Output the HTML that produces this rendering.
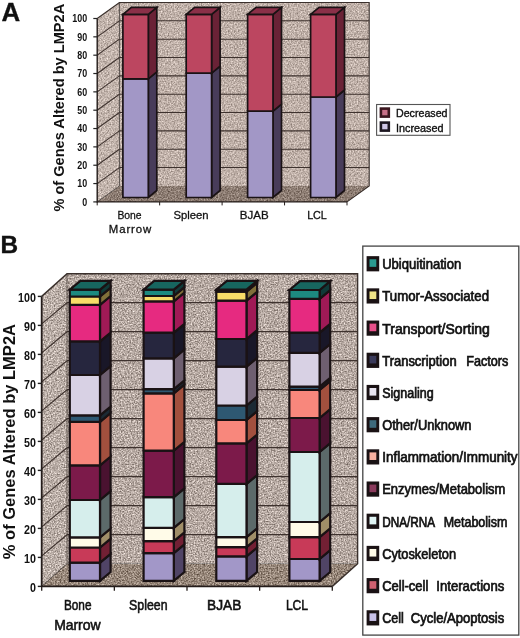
<!DOCTYPE html>
<html><head><meta charset="utf-8"><style>
html,body{margin:0;padding:0;background:#fff;}
svg{display:block;font-family:"Liberation Sans", sans-serif;filter:blur(0.35px);}
</style></head><body>
<svg width="520" height="638" viewBox="0 0 520 638">
<defs>
<filter id="grainA" x="0" y="0" width="1" height="1" color-interpolation-filters="sRGB">
<feTurbulence type="fractalNoise" baseFrequency="0.7" numOctaves="2" seed="9" result="t"/>
<feColorMatrix in="t" type="matrix" values="1 0 0 0 0  1 0 0 0 0  1 0 0 0 0  0 0 0 0 1" result="g"/>
<feComposite in="SourceGraphic" in2="g" operator="arithmetic" k1="0" k2="1" k3="0.6" k4="-0.3" result="r"/>
<feComposite in="r" in2="SourceGraphic" operator="in"/>
</filter>
<filter id="grain" x="0" y="0" width="1" height="1" color-interpolation-filters="sRGB">
<feTurbulence type="fractalNoise" baseFrequency="0.7" numOctaves="2" seed="5" result="t"/>
<feColorMatrix in="t" type="matrix" values="1 0 0 0 0  1 0 0 0 0  1 0 0 0 0  0 0 0 0 1" result="g"/>
<feComposite in="SourceGraphic" in2="g" operator="arithmetic" k1="0" k2="1" k3="0.8" k4="-0.4" result="r"/>
<feComposite in="r" in2="SourceGraphic" operator="in"/>
</filter>
</defs>
<rect width="520" height="638" fill="#fff"/>
<polygon points="119.40,2.50 369.20,2.50 369.20,185.90 119.40,185.90" fill="#bfb0a8" filter="url(#grainA)"/>
<polygon points="97.20,18.50 119.40,2.50 119.40,185.90 97.20,201.90" fill="#c2b4ac" filter="url(#grainA)"/>
<polygon points="97.20,201.90 119.40,185.90 369.20,185.90 347.00,201.90" fill="#8c7c72" filter="url(#grainA)"/>
<line x1="119.40" y1="167.56" x2="369.20" y2="167.56" stroke="#3e322e" stroke-width="1.05"/>
<line x1="97.20" y1="183.56" x2="119.40" y2="167.56" stroke="#3e322e" stroke-width="1.05"/>
<line x1="119.40" y1="149.22" x2="369.20" y2="149.22" stroke="#3e322e" stroke-width="1.05"/>
<line x1="97.20" y1="165.22" x2="119.40" y2="149.22" stroke="#3e322e" stroke-width="1.05"/>
<line x1="119.40" y1="130.88" x2="369.20" y2="130.88" stroke="#3e322e" stroke-width="1.05"/>
<line x1="97.20" y1="146.88" x2="119.40" y2="130.88" stroke="#3e322e" stroke-width="1.05"/>
<line x1="119.40" y1="112.54" x2="369.20" y2="112.54" stroke="#3e322e" stroke-width="1.05"/>
<line x1="97.20" y1="128.54" x2="119.40" y2="112.54" stroke="#3e322e" stroke-width="1.05"/>
<line x1="119.40" y1="94.20" x2="369.20" y2="94.20" stroke="#3e322e" stroke-width="1.05"/>
<line x1="97.20" y1="110.20" x2="119.40" y2="94.20" stroke="#3e322e" stroke-width="1.05"/>
<line x1="119.40" y1="75.86" x2="369.20" y2="75.86" stroke="#3e322e" stroke-width="1.05"/>
<line x1="97.20" y1="91.86" x2="119.40" y2="75.86" stroke="#3e322e" stroke-width="1.05"/>
<line x1="119.40" y1="57.52" x2="369.20" y2="57.52" stroke="#3e322e" stroke-width="1.05"/>
<line x1="97.20" y1="73.52" x2="119.40" y2="57.52" stroke="#3e322e" stroke-width="1.05"/>
<line x1="119.40" y1="39.18" x2="369.20" y2="39.18" stroke="#3e322e" stroke-width="1.05"/>
<line x1="97.20" y1="55.18" x2="119.40" y2="39.18" stroke="#3e322e" stroke-width="1.05"/>
<line x1="119.40" y1="20.84" x2="369.20" y2="20.84" stroke="#3e322e" stroke-width="1.05"/>
<line x1="97.20" y1="36.84" x2="119.40" y2="20.84" stroke="#3e322e" stroke-width="1.05"/>
<polyline points="97.20,18.50 119.40,2.50 369.20,2.50 369.20,185.90 347.00,201.90" fill="none" stroke="#3a302c" stroke-width="1.12"/>
<line x1="97.20" y1="202.40" x2="97.20" y2="18.50" stroke="#241c1a" stroke-width="1.4"/>
<line x1="119.40" y1="2.50" x2="119.40" y2="185.90" stroke="#3a302c" stroke-width="0.7"/>
<line x1="97.20" y1="201.90" x2="119.40" y2="185.90" stroke="#3a302c" stroke-width="0.6"/>
<line x1="97.20" y1="201.90" x2="347.00" y2="201.90" stroke="#241c1a" stroke-width="1.26"/>
<polygon points="148.30,78.80 156.80,71.80 156.80,190.50 148.30,197.50" fill="#483c5a" stroke="#1a1214" stroke-width="1.7" stroke-linejoin="miter"/>
<polygon points="122.90,78.80 148.30,78.80 148.30,197.50 122.90,197.50" fill="#a297c6" stroke="#1a1214" stroke-width="1.7" stroke-linejoin="miter"/>
<polygon points="148.30,14.40 156.80,7.40 156.80,71.80 148.30,78.80" fill="#6a2236" stroke="#1a1214" stroke-width="1.7" stroke-linejoin="miter"/>
<polygon points="122.90,14.40 148.30,14.40 148.30,78.80 122.90,78.80" fill="#bc4660" stroke="#1a1214" stroke-width="1.7" stroke-linejoin="miter"/>
<polygon points="122.90,14.40 131.40,7.40 156.80,7.40 148.30,14.40" fill="#8a3048" stroke="#1a1214" stroke-width="1.7" stroke-linejoin="miter"/>
<polygon points="211.60,73.10 220.10,66.10 220.10,190.50 211.60,197.50" fill="#483c5a" stroke="#1a1214" stroke-width="1.7" stroke-linejoin="miter"/>
<polygon points="186.20,73.10 211.60,73.10 211.60,197.50 186.20,197.50" fill="#a297c6" stroke="#1a1214" stroke-width="1.7" stroke-linejoin="miter"/>
<polygon points="211.60,14.40 220.10,7.40 220.10,66.10 211.60,73.10" fill="#6a2236" stroke="#1a1214" stroke-width="1.7" stroke-linejoin="miter"/>
<polygon points="186.20,14.40 211.60,14.40 211.60,73.10 186.20,73.10" fill="#bc4660" stroke="#1a1214" stroke-width="1.7" stroke-linejoin="miter"/>
<polygon points="186.20,14.40 194.70,7.40 220.10,7.40 211.60,14.40" fill="#8a3048" stroke="#1a1214" stroke-width="1.7" stroke-linejoin="miter"/>
<polygon points="273.00,111.20 281.50,104.20 281.50,190.50 273.00,197.50" fill="#483c5a" stroke="#1a1214" stroke-width="1.7" stroke-linejoin="miter"/>
<polygon points="247.60,111.20 273.00,111.20 273.00,197.50 247.60,197.50" fill="#a297c6" stroke="#1a1214" stroke-width="1.7" stroke-linejoin="miter"/>
<polygon points="273.00,14.40 281.50,7.40 281.50,104.20 273.00,111.20" fill="#6a2236" stroke="#1a1214" stroke-width="1.7" stroke-linejoin="miter"/>
<polygon points="247.60,14.40 273.00,14.40 273.00,111.20 247.60,111.20" fill="#bc4660" stroke="#1a1214" stroke-width="1.7" stroke-linejoin="miter"/>
<polygon points="247.60,14.40 256.10,7.40 281.50,7.40 273.00,14.40" fill="#8a3048" stroke="#1a1214" stroke-width="1.7" stroke-linejoin="miter"/>
<polygon points="336.00,97.00 344.50,90.00 344.50,190.50 336.00,197.50" fill="#483c5a" stroke="#1a1214" stroke-width="1.7" stroke-linejoin="miter"/>
<polygon points="310.60,97.00 336.00,97.00 336.00,197.50 310.60,197.50" fill="#a297c6" stroke="#1a1214" stroke-width="1.7" stroke-linejoin="miter"/>
<polygon points="336.00,14.40 344.50,7.40 344.50,90.00 336.00,97.00" fill="#6a2236" stroke="#1a1214" stroke-width="1.7" stroke-linejoin="miter"/>
<polygon points="310.60,14.40 336.00,14.40 336.00,97.00 310.60,97.00" fill="#bc4660" stroke="#1a1214" stroke-width="1.7" stroke-linejoin="miter"/>
<polygon points="310.60,14.40 319.10,7.40 344.50,7.40 336.00,14.40" fill="#8a3048" stroke="#1a1214" stroke-width="1.7" stroke-linejoin="miter"/>
<line x1="93.30" y1="201.90" x2="97.20" y2="201.90" stroke="#222" stroke-width="1.2"/>
<text x="87.20" y="205.70" font-size="10.2" font-weight="bold" text-anchor="end" fill="#111" textLength="4.95" lengthAdjust="spacingAndGlyphs">0</text>
<line x1="93.30" y1="183.56" x2="97.20" y2="183.56" stroke="#222" stroke-width="1.2"/>
<text x="87.20" y="187.36" font-size="10.2" font-weight="bold" text-anchor="end" fill="#111" textLength="9.90" lengthAdjust="spacingAndGlyphs">10</text>
<line x1="93.30" y1="165.22" x2="97.20" y2="165.22" stroke="#222" stroke-width="1.2"/>
<text x="87.20" y="169.02" font-size="10.2" font-weight="bold" text-anchor="end" fill="#111" textLength="9.90" lengthAdjust="spacingAndGlyphs">20</text>
<line x1="93.30" y1="146.88" x2="97.20" y2="146.88" stroke="#222" stroke-width="1.2"/>
<text x="87.20" y="150.68" font-size="10.2" font-weight="bold" text-anchor="end" fill="#111" textLength="9.90" lengthAdjust="spacingAndGlyphs">30</text>
<line x1="93.30" y1="128.54" x2="97.20" y2="128.54" stroke="#222" stroke-width="1.2"/>
<text x="87.20" y="132.34" font-size="10.2" font-weight="bold" text-anchor="end" fill="#111" textLength="9.90" lengthAdjust="spacingAndGlyphs">40</text>
<line x1="93.30" y1="110.20" x2="97.20" y2="110.20" stroke="#222" stroke-width="1.2"/>
<text x="87.20" y="114.00" font-size="10.2" font-weight="bold" text-anchor="end" fill="#111" textLength="9.90" lengthAdjust="spacingAndGlyphs">50</text>
<line x1="93.30" y1="91.86" x2="97.20" y2="91.86" stroke="#222" stroke-width="1.2"/>
<text x="87.20" y="95.66" font-size="10.2" font-weight="bold" text-anchor="end" fill="#111" textLength="9.90" lengthAdjust="spacingAndGlyphs">60</text>
<line x1="93.30" y1="73.52" x2="97.20" y2="73.52" stroke="#222" stroke-width="1.2"/>
<text x="87.20" y="77.32" font-size="10.2" font-weight="bold" text-anchor="end" fill="#111" textLength="9.90" lengthAdjust="spacingAndGlyphs">70</text>
<line x1="93.30" y1="55.18" x2="97.20" y2="55.18" stroke="#222" stroke-width="1.2"/>
<text x="87.20" y="58.98" font-size="10.2" font-weight="bold" text-anchor="end" fill="#111" textLength="9.90" lengthAdjust="spacingAndGlyphs">80</text>
<line x1="93.30" y1="36.84" x2="97.20" y2="36.84" stroke="#222" stroke-width="1.2"/>
<text x="87.20" y="40.64" font-size="10.2" font-weight="bold" text-anchor="end" fill="#111" textLength="9.90" lengthAdjust="spacingAndGlyphs">90</text>
<line x1="93.30" y1="18.50" x2="97.20" y2="18.50" stroke="#222" stroke-width="1.2"/>
<text x="87.20" y="22.30" font-size="10.2" font-weight="bold" text-anchor="end" fill="#111" textLength="14.85" lengthAdjust="spacingAndGlyphs">100</text>
<line x1="97.20" y1="201.90" x2="97.20" y2="205.40" stroke="#241c1a" stroke-width="1.0"/>
<line x1="159.65" y1="201.90" x2="159.65" y2="205.40" stroke="#241c1a" stroke-width="1.0"/>
<line x1="222.10" y1="201.90" x2="222.10" y2="205.40" stroke="#241c1a" stroke-width="1.0"/>
<line x1="284.55" y1="201.90" x2="284.55" y2="205.40" stroke="#241c1a" stroke-width="1.0"/>
<line x1="347.00" y1="201.90" x2="347.00" y2="205.40" stroke="#241c1a" stroke-width="1.0"/>
<text x="129.50" y="218.80" font-size="11.4" font-weight="normal" text-anchor="middle" fill="#111" textLength="24.20" lengthAdjust="spacingAndGlyphs" stroke="#111" stroke-width="0.3">Bone</text>
<text x="130" y="233.1" font-size="11.4" text-anchor="middle" fill="#111" textLength="42.4" lengthAdjust="spacing" stroke="#111" stroke-width="0.3">Marrow</text>
<text x="191.00" y="218.80" font-size="11.4" font-weight="normal" text-anchor="middle" fill="#111" textLength="35.20" lengthAdjust="spacingAndGlyphs" stroke="#111" stroke-width="0.3">Spleen</text>
<text x="254.20" y="218.80" font-size="11.4" font-weight="normal" text-anchor="middle" fill="#111" textLength="28.90" lengthAdjust="spacingAndGlyphs" stroke="#111" stroke-width="0.3">BJAB</text>
<text x="317.00" y="218.80" font-size="11.4" font-weight="normal" text-anchor="middle" fill="#111" textLength="19.70" lengthAdjust="spacingAndGlyphs" stroke="#111" stroke-width="0.3">LCL</text>
<text transform="translate(63.8,211.6) rotate(-90)" font-size="14.6" font-weight="bold" fill="#111" textLength="207.8" lengthAdjust="spacingAndGlyphs">% of Genes Altered by LMP2A</text>
<text x="1.60" y="20.70" font-size="25" font-weight="bold" text-anchor="start" fill="#111" textLength="18.70" lengthAdjust="spacingAndGlyphs" stroke="#111" stroke-width="0.3">A</text>
<rect x="376.6" y="104.5" width="73.4" height="30.8" fill="#fff" stroke="#555" stroke-width="1.1"/>
<rect x="379.6" y="107.30" width="10.5" height="10.6" fill="#3a161e"/>
<rect x="382.2" y="109.90" width="5.3" height="5.4" fill="#c87088"/>
<text x="396.00" y="116.60" font-size="10.8" font-weight="normal" text-anchor="start" fill="#111" textLength="51.50" lengthAdjust="spacingAndGlyphs" stroke="#111" stroke-width="0.35">Decreased</text>
<rect x="379.6" y="121.30" width="10.5" height="10.6" fill="#1c1620"/>
<rect x="382.2" y="123.90" width="5.3" height="5.4" fill="#cfc6e6"/>
<text x="396.00" y="131.90" font-size="10.8" font-weight="normal" text-anchor="start" fill="#111" textLength="47.50" lengthAdjust="spacingAndGlyphs" stroke="#111" stroke-width="0.35">Increased</text>
<polygon points="67.00,273.70 357.60,273.70 357.60,563.70 67.00,563.70" fill="#b6a9a2" filter="url(#grain)"/>
<polygon points="41.70,296.40 67.00,273.70 67.00,563.70 41.70,586.40" fill="#baaea7" filter="url(#grain)"/>
<polygon points="41.70,586.40 67.00,563.70 357.60,563.70 332.30,586.40" fill="#968679" filter="url(#grain)"/>
<line x1="67.00" y1="534.70" x2="357.60" y2="534.70" stroke="#3e322e" stroke-width="1.2"/>
<line x1="41.70" y1="555.90" x2="67.00" y2="534.70" stroke="#3e322e" stroke-width="1.2"/>
<line x1="67.00" y1="505.70" x2="357.60" y2="505.70" stroke="#3e322e" stroke-width="1.2"/>
<line x1="41.70" y1="526.90" x2="67.00" y2="505.70" stroke="#3e322e" stroke-width="1.2"/>
<line x1="67.00" y1="476.70" x2="357.60" y2="476.70" stroke="#3e322e" stroke-width="1.2"/>
<line x1="41.70" y1="497.90" x2="67.00" y2="476.70" stroke="#3e322e" stroke-width="1.2"/>
<line x1="67.00" y1="447.70" x2="357.60" y2="447.70" stroke="#3e322e" stroke-width="1.2"/>
<line x1="41.70" y1="468.90" x2="67.00" y2="447.70" stroke="#3e322e" stroke-width="1.2"/>
<line x1="67.00" y1="418.70" x2="357.60" y2="418.70" stroke="#3e322e" stroke-width="1.2"/>
<line x1="41.70" y1="439.90" x2="67.00" y2="418.70" stroke="#3e322e" stroke-width="1.2"/>
<line x1="67.00" y1="389.70" x2="357.60" y2="389.70" stroke="#3e322e" stroke-width="1.2"/>
<line x1="41.70" y1="410.90" x2="67.00" y2="389.70" stroke="#3e322e" stroke-width="1.2"/>
<line x1="67.00" y1="360.70" x2="357.60" y2="360.70" stroke="#3e322e" stroke-width="1.2"/>
<line x1="41.70" y1="381.90" x2="67.00" y2="360.70" stroke="#3e322e" stroke-width="1.2"/>
<line x1="67.00" y1="331.70" x2="357.60" y2="331.70" stroke="#3e322e" stroke-width="1.2"/>
<line x1="41.70" y1="352.90" x2="67.00" y2="331.70" stroke="#3e322e" stroke-width="1.2"/>
<line x1="67.00" y1="302.70" x2="357.60" y2="302.70" stroke="#3e322e" stroke-width="1.2"/>
<line x1="41.70" y1="323.90" x2="67.00" y2="302.70" stroke="#3e322e" stroke-width="1.2"/>
<polyline points="41.70,296.40 67.00,273.70 357.60,273.70 357.60,563.70 332.30,586.40" fill="none" stroke="#3a302c" stroke-width="1.44"/>
<line x1="41.70" y1="586.90" x2="41.70" y2="296.40" stroke="#241c1a" stroke-width="1.8"/>
<line x1="67.00" y1="273.70" x2="67.00" y2="563.70" stroke="#3a302c" stroke-width="0.7"/>
<line x1="41.70" y1="586.40" x2="67.00" y2="563.70" stroke="#3a302c" stroke-width="0.6"/>
<line x1="41.70" y1="586.40" x2="332.30" y2="586.40" stroke="#241c1a" stroke-width="1.62"/>
<polygon points="100.00,562.70 110.60,553.90 110.60,572.00 100.00,580.80" fill="#504466" stroke="#1a1214" stroke-width="2.2" stroke-linejoin="miter"/>
<polygon points="69.80,562.70 100.00,562.70 100.00,580.80 69.80,580.80" fill="#a297c8" stroke="#1a1214" stroke-width="2.2" stroke-linejoin="miter"/>
<polygon points="100.00,547.50 110.60,538.70 110.60,553.90 100.00,562.70" fill="#722034" stroke="#1a1214" stroke-width="2.2" stroke-linejoin="miter"/>
<polygon points="69.80,547.50 100.00,547.50 100.00,562.70 69.80,562.70" fill="#c83a58" stroke="#1a1214" stroke-width="2.2" stroke-linejoin="miter"/>
<polygon points="100.00,537.30 110.60,528.50 110.60,538.70 100.00,547.50" fill="#a08e68" stroke="#1a1214" stroke-width="2.2" stroke-linejoin="miter"/>
<polygon points="69.80,537.30 100.00,537.30 100.00,547.50 69.80,547.50" fill="#fffbe8" stroke="#1a1214" stroke-width="2.2" stroke-linejoin="miter"/>
<polygon points="100.00,500.00 110.60,491.20 110.60,528.50 100.00,537.30" fill="#5c6a6a" stroke="#1a1214" stroke-width="2.2" stroke-linejoin="miter"/>
<polygon points="69.80,500.00 100.00,500.00 100.00,537.30 69.80,537.30" fill="#d6eeec" stroke="#1a1214" stroke-width="2.2" stroke-linejoin="miter"/>
<polygon points="100.00,465.30 110.60,456.50 110.60,491.20 100.00,500.00" fill="#4a1230" stroke="#1a1214" stroke-width="2.2" stroke-linejoin="miter"/>
<polygon points="69.80,465.30 100.00,465.30 100.00,500.00 69.80,500.00" fill="#7c1a4a" stroke="#1a1214" stroke-width="2.2" stroke-linejoin="miter"/>
<polygon points="100.00,421.80 110.60,413.00 110.60,456.50 100.00,465.30" fill="#a2503e" stroke="#1a1214" stroke-width="2.2" stroke-linejoin="miter"/>
<polygon points="69.80,421.80 100.00,421.80 100.00,465.30 69.80,465.30" fill="#f8877c" stroke="#1a1214" stroke-width="2.2" stroke-linejoin="miter"/>
<polygon points="100.00,415.40 110.60,406.60 110.60,413.00 100.00,421.80" fill="#1c2a34" stroke="#1a1214" stroke-width="2.2" stroke-linejoin="miter"/>
<polygon points="69.80,415.40 100.00,415.40 100.00,421.80 69.80,421.80" fill="#2e5872" stroke="#1a1214" stroke-width="2.2" stroke-linejoin="miter"/>
<polygon points="100.00,375.00 110.60,366.20 110.60,406.60 100.00,415.40" fill="#6e5f70" stroke="#1a1214" stroke-width="2.2" stroke-linejoin="miter"/>
<polygon points="69.80,375.00 100.00,375.00 100.00,415.40 69.80,415.40" fill="#d8d1e4" stroke="#1a1214" stroke-width="2.2" stroke-linejoin="miter"/>
<polygon points="100.00,341.40 110.60,332.60 110.60,366.20 100.00,375.00" fill="#191728" stroke="#1a1214" stroke-width="2.2" stroke-linejoin="miter"/>
<polygon points="69.80,341.40 100.00,341.40 100.00,375.00 69.80,375.00" fill="#26263e" stroke="#1a1214" stroke-width="2.2" stroke-linejoin="miter"/>
<polygon points="100.00,304.80 110.60,296.00 110.60,332.60 100.00,341.40" fill="#a01a56" stroke="#1a1214" stroke-width="2.2" stroke-linejoin="miter"/>
<polygon points="69.80,304.80 100.00,304.80 100.00,341.40 69.80,341.40" fill="#e62a80" stroke="#1a1214" stroke-width="2.2" stroke-linejoin="miter"/>
<polygon points="100.00,296.50 110.60,287.70 110.60,296.00 100.00,304.80" fill="#80703a" stroke="#1a1214" stroke-width="2.2" stroke-linejoin="miter"/>
<polygon points="69.80,296.50 100.00,296.50 100.00,304.80 69.80,304.80" fill="#f8dc68" stroke="#1a1214" stroke-width="2.2" stroke-linejoin="miter"/>
<polygon points="100.00,289.60 110.60,280.80 110.60,287.70 100.00,296.50" fill="#103a38" stroke="#1a1214" stroke-width="2.2" stroke-linejoin="miter"/>
<polygon points="69.80,289.60 100.00,289.60 100.00,296.50 69.80,296.50" fill="#1d8a80" stroke="#1a1214" stroke-width="2.2" stroke-linejoin="miter"/>
<polygon points="69.80,289.60 80.40,280.80 110.60,280.80 100.00,289.60" fill="#17665f" stroke="#1a1214" stroke-width="2.2" stroke-linejoin="miter"/>
<polygon points="173.80,553.10 184.40,544.30 184.40,572.00 173.80,580.80" fill="#504466" stroke="#1a1214" stroke-width="2.2" stroke-linejoin="miter"/>
<polygon points="143.60,553.10 173.80,553.10 173.80,580.80 143.60,580.80" fill="#a297c8" stroke="#1a1214" stroke-width="2.2" stroke-linejoin="miter"/>
<polygon points="173.80,541.10 184.40,532.30 184.40,544.30 173.80,553.10" fill="#722034" stroke="#1a1214" stroke-width="2.2" stroke-linejoin="miter"/>
<polygon points="143.60,541.10 173.80,541.10 173.80,553.10 143.60,553.10" fill="#c83a58" stroke="#1a1214" stroke-width="2.2" stroke-linejoin="miter"/>
<polygon points="173.80,527.80 184.40,519.00 184.40,532.30 173.80,541.10" fill="#a08e68" stroke="#1a1214" stroke-width="2.2" stroke-linejoin="miter"/>
<polygon points="143.60,527.80 173.80,527.80 173.80,541.10 143.60,541.10" fill="#fffbe8" stroke="#1a1214" stroke-width="2.2" stroke-linejoin="miter"/>
<polygon points="173.80,497.20 184.40,488.40 184.40,519.00 173.80,527.80" fill="#5c6a6a" stroke="#1a1214" stroke-width="2.2" stroke-linejoin="miter"/>
<polygon points="143.60,497.20 173.80,497.20 173.80,527.80 143.60,527.80" fill="#d6eeec" stroke="#1a1214" stroke-width="2.2" stroke-linejoin="miter"/>
<polygon points="173.80,450.60 184.40,441.80 184.40,488.40 173.80,497.20" fill="#4a1230" stroke="#1a1214" stroke-width="2.2" stroke-linejoin="miter"/>
<polygon points="143.60,450.60 173.80,450.60 173.80,497.20 143.60,497.20" fill="#7c1a4a" stroke="#1a1214" stroke-width="2.2" stroke-linejoin="miter"/>
<polygon points="173.80,393.40 184.40,384.60 184.40,441.80 173.80,450.60" fill="#a2503e" stroke="#1a1214" stroke-width="2.2" stroke-linejoin="miter"/>
<polygon points="143.60,393.40 173.80,393.40 173.80,450.60 143.60,450.60" fill="#f8877c" stroke="#1a1214" stroke-width="2.2" stroke-linejoin="miter"/>
<polygon points="173.80,389.20 184.40,380.40 184.40,384.60 173.80,393.40" fill="#1c2a34" stroke="#1a1214" stroke-width="2.2" stroke-linejoin="miter"/>
<polygon points="143.60,389.20 173.80,389.20 173.80,393.40 143.60,393.40" fill="#2e5872" stroke="#1a1214" stroke-width="2.2" stroke-linejoin="miter"/>
<polygon points="173.80,358.30 184.40,349.50 184.40,380.40 173.80,389.20" fill="#6e5f70" stroke="#1a1214" stroke-width="2.2" stroke-linejoin="miter"/>
<polygon points="143.60,358.30 173.80,358.30 173.80,389.20 143.60,389.20" fill="#d8d1e4" stroke="#1a1214" stroke-width="2.2" stroke-linejoin="miter"/>
<polygon points="173.80,332.70 184.40,323.90 184.40,349.50 173.80,358.30" fill="#191728" stroke="#1a1214" stroke-width="2.2" stroke-linejoin="miter"/>
<polygon points="143.60,332.70 173.80,332.70 173.80,358.30 143.60,358.30" fill="#26263e" stroke="#1a1214" stroke-width="2.2" stroke-linejoin="miter"/>
<polygon points="173.80,301.40 184.40,292.60 184.40,323.90 173.80,332.70" fill="#a01a56" stroke="#1a1214" stroke-width="2.2" stroke-linejoin="miter"/>
<polygon points="143.60,301.40 173.80,301.40 173.80,332.70 143.60,332.70" fill="#e62a80" stroke="#1a1214" stroke-width="2.2" stroke-linejoin="miter"/>
<polygon points="173.80,296.00 184.40,287.20 184.40,292.60 173.80,301.40" fill="#80703a" stroke="#1a1214" stroke-width="2.2" stroke-linejoin="miter"/>
<polygon points="143.60,296.00 173.80,296.00 173.80,301.40 143.60,301.40" fill="#f8dc68" stroke="#1a1214" stroke-width="2.2" stroke-linejoin="miter"/>
<polygon points="173.80,289.60 184.40,280.80 184.40,287.20 173.80,296.00" fill="#103a38" stroke="#1a1214" stroke-width="2.2" stroke-linejoin="miter"/>
<polygon points="143.60,289.60 173.80,289.60 173.80,296.00 143.60,296.00" fill="#1d8a80" stroke="#1a1214" stroke-width="2.2" stroke-linejoin="miter"/>
<polygon points="143.60,289.60 154.20,280.80 184.40,280.80 173.80,289.60" fill="#17665f" stroke="#1a1214" stroke-width="2.2" stroke-linejoin="miter"/>
<polygon points="246.50,556.30 257.10,547.50 257.10,572.00 246.50,580.80" fill="#504466" stroke="#1a1214" stroke-width="2.2" stroke-linejoin="miter"/>
<polygon points="216.30,556.30 246.50,556.30 246.50,580.80 216.30,580.80" fill="#a297c8" stroke="#1a1214" stroke-width="2.2" stroke-linejoin="miter"/>
<polygon points="246.50,547.20 257.10,538.40 257.10,547.50 246.50,556.30" fill="#722034" stroke="#1a1214" stroke-width="2.2" stroke-linejoin="miter"/>
<polygon points="216.30,547.20 246.50,547.20 246.50,556.30 216.30,556.30" fill="#c83a58" stroke="#1a1214" stroke-width="2.2" stroke-linejoin="miter"/>
<polygon points="246.50,537.10 257.10,528.30 257.10,538.40 246.50,547.20" fill="#a08e68" stroke="#1a1214" stroke-width="2.2" stroke-linejoin="miter"/>
<polygon points="216.30,537.10 246.50,537.10 246.50,547.20 216.30,547.20" fill="#fffbe8" stroke="#1a1214" stroke-width="2.2" stroke-linejoin="miter"/>
<polygon points="246.50,483.90 257.10,475.10 257.10,528.30 246.50,537.10" fill="#5c6a6a" stroke="#1a1214" stroke-width="2.2" stroke-linejoin="miter"/>
<polygon points="216.30,483.90 246.50,483.90 246.50,537.10 216.30,537.10" fill="#d6eeec" stroke="#1a1214" stroke-width="2.2" stroke-linejoin="miter"/>
<polygon points="246.50,443.40 257.10,434.60 257.10,475.10 246.50,483.90" fill="#4a1230" stroke="#1a1214" stroke-width="2.2" stroke-linejoin="miter"/>
<polygon points="216.30,443.40 246.50,443.40 246.50,483.90 216.30,483.90" fill="#7c1a4a" stroke="#1a1214" stroke-width="2.2" stroke-linejoin="miter"/>
<polygon points="246.50,420.00 257.10,411.20 257.10,434.60 246.50,443.40" fill="#a2503e" stroke="#1a1214" stroke-width="2.2" stroke-linejoin="miter"/>
<polygon points="216.30,420.00 246.50,420.00 246.50,443.40 216.30,443.40" fill="#f8877c" stroke="#1a1214" stroke-width="2.2" stroke-linejoin="miter"/>
<polygon points="246.50,405.50 257.10,396.70 257.10,411.20 246.50,420.00" fill="#1c2a34" stroke="#1a1214" stroke-width="2.2" stroke-linejoin="miter"/>
<polygon points="216.30,405.50 246.50,405.50 246.50,420.00 216.30,420.00" fill="#2e5872" stroke="#1a1214" stroke-width="2.2" stroke-linejoin="miter"/>
<polygon points="246.50,366.60 257.10,357.80 257.10,396.70 246.50,405.50" fill="#6e5f70" stroke="#1a1214" stroke-width="2.2" stroke-linejoin="miter"/>
<polygon points="216.30,366.60 246.50,366.60 246.50,405.50 216.30,405.50" fill="#d8d1e4" stroke="#1a1214" stroke-width="2.2" stroke-linejoin="miter"/>
<polygon points="246.50,339.00 257.10,330.20 257.10,357.80 246.50,366.60" fill="#191728" stroke="#1a1214" stroke-width="2.2" stroke-linejoin="miter"/>
<polygon points="216.30,339.00 246.50,339.00 246.50,366.60 216.30,366.60" fill="#26263e" stroke="#1a1214" stroke-width="2.2" stroke-linejoin="miter"/>
<polygon points="246.50,300.60 257.10,291.80 257.10,330.20 246.50,339.00" fill="#a01a56" stroke="#1a1214" stroke-width="2.2" stroke-linejoin="miter"/>
<polygon points="216.30,300.60 246.50,300.60 246.50,339.00 216.30,339.00" fill="#e62a80" stroke="#1a1214" stroke-width="2.2" stroke-linejoin="miter"/>
<polygon points="246.50,291.60 257.10,282.80 257.10,291.80 246.50,300.60" fill="#80703a" stroke="#1a1214" stroke-width="2.2" stroke-linejoin="miter"/>
<polygon points="216.30,291.60 246.50,291.60 246.50,300.60 216.30,300.60" fill="#f8dc68" stroke="#1a1214" stroke-width="2.2" stroke-linejoin="miter"/>
<polygon points="246.50,289.60 257.10,280.80 257.10,282.80 246.50,291.60" fill="#103a38" stroke="#1a1214" stroke-width="2.2" stroke-linejoin="miter"/>
<polygon points="216.30,289.60 246.50,289.60 246.50,291.60 216.30,291.60" fill="#1d8a80" stroke="#1a1214" stroke-width="2.2" stroke-linejoin="miter"/>
<polygon points="216.30,289.60 226.90,280.80 257.10,280.80 246.50,289.60" fill="#17665f" stroke="#1a1214" stroke-width="2.2" stroke-linejoin="miter"/>
<polygon points="319.60,559.00 330.20,550.20 330.20,572.00 319.60,580.80" fill="#504466" stroke="#1a1214" stroke-width="2.2" stroke-linejoin="miter"/>
<polygon points="289.40,559.00 319.60,559.00 319.60,580.80 289.40,580.80" fill="#a297c8" stroke="#1a1214" stroke-width="2.2" stroke-linejoin="miter"/>
<polygon points="319.60,537.10 330.20,528.30 330.20,550.20 319.60,559.00" fill="#722034" stroke="#1a1214" stroke-width="2.2" stroke-linejoin="miter"/>
<polygon points="289.40,537.10 319.60,537.10 319.60,559.00 289.40,559.00" fill="#c83a58" stroke="#1a1214" stroke-width="2.2" stroke-linejoin="miter"/>
<polygon points="319.60,522.00 330.20,513.20 330.20,528.30 319.60,537.10" fill="#a08e68" stroke="#1a1214" stroke-width="2.2" stroke-linejoin="miter"/>
<polygon points="289.40,522.00 319.60,522.00 319.60,537.10 289.40,537.10" fill="#fffbe8" stroke="#1a1214" stroke-width="2.2" stroke-linejoin="miter"/>
<polygon points="319.60,452.00 330.20,443.20 330.20,513.20 319.60,522.00" fill="#5c6a6a" stroke="#1a1214" stroke-width="2.2" stroke-linejoin="miter"/>
<polygon points="289.40,452.00 319.60,452.00 319.60,522.00 289.40,522.00" fill="#d6eeec" stroke="#1a1214" stroke-width="2.2" stroke-linejoin="miter"/>
<polygon points="319.60,418.00 330.20,409.20 330.20,443.20 319.60,452.00" fill="#4a1230" stroke="#1a1214" stroke-width="2.2" stroke-linejoin="miter"/>
<polygon points="289.40,418.00 319.60,418.00 319.60,452.00 289.40,452.00" fill="#7c1a4a" stroke="#1a1214" stroke-width="2.2" stroke-linejoin="miter"/>
<polygon points="319.60,390.00 330.20,381.20 330.20,409.20 319.60,418.00" fill="#a2503e" stroke="#1a1214" stroke-width="2.2" stroke-linejoin="miter"/>
<polygon points="289.40,390.00 319.60,390.00 319.60,418.00 289.40,418.00" fill="#f8877c" stroke="#1a1214" stroke-width="2.2" stroke-linejoin="miter"/>
<polygon points="319.60,386.70 330.20,377.90 330.20,381.20 319.60,390.00" fill="#1c2a34" stroke="#1a1214" stroke-width="2.2" stroke-linejoin="miter"/>
<polygon points="289.40,386.70 319.60,386.70 319.60,390.00 289.40,390.00" fill="#2e5872" stroke="#1a1214" stroke-width="2.2" stroke-linejoin="miter"/>
<polygon points="319.60,352.80 330.20,344.00 330.20,377.90 319.60,386.70" fill="#6e5f70" stroke="#1a1214" stroke-width="2.2" stroke-linejoin="miter"/>
<polygon points="289.40,352.80 319.60,352.80 319.60,386.70 289.40,386.70" fill="#d8d1e4" stroke="#1a1214" stroke-width="2.2" stroke-linejoin="miter"/>
<polygon points="319.60,332.70 330.20,323.90 330.20,344.00 319.60,352.80" fill="#191728" stroke="#1a1214" stroke-width="2.2" stroke-linejoin="miter"/>
<polygon points="289.40,332.70 319.60,332.70 319.60,352.80 289.40,352.80" fill="#26263e" stroke="#1a1214" stroke-width="2.2" stroke-linejoin="miter"/>
<polygon points="319.60,298.90 330.20,290.10 330.20,323.90 319.60,332.70" fill="#a01a56" stroke="#1a1214" stroke-width="2.2" stroke-linejoin="miter"/>
<polygon points="289.40,298.90 319.60,298.90 319.60,332.70 289.40,332.70" fill="#e62a80" stroke="#1a1214" stroke-width="2.2" stroke-linejoin="miter"/>
<polygon points="319.60,290.00 330.20,281.20 330.20,290.10 319.60,298.90" fill="#103a38" stroke="#1a1214" stroke-width="2.2" stroke-linejoin="miter"/>
<polygon points="289.40,290.00 319.60,290.00 319.60,298.90 289.40,298.90" fill="#1d8a80" stroke="#1a1214" stroke-width="2.2" stroke-linejoin="miter"/>
<polygon points="289.40,290.00 300.00,281.20 330.20,281.20 319.60,290.00" fill="#17665f" stroke="#1a1214" stroke-width="2.2" stroke-linejoin="miter"/>
<line x1="37.80" y1="586.40" x2="41.70" y2="586.40" stroke="#222" stroke-width="1.4"/>
<text x="35.90" y="591.70" font-size="12.3" font-weight="bold" text-anchor="end" fill="#111" textLength="5.95" lengthAdjust="spacingAndGlyphs">0</text>
<line x1="37.80" y1="557.40" x2="41.70" y2="557.40" stroke="#222" stroke-width="1.4"/>
<text x="35.90" y="562.70" font-size="12.3" font-weight="bold" text-anchor="end" fill="#111" textLength="11.90" lengthAdjust="spacingAndGlyphs">10</text>
<line x1="37.80" y1="528.40" x2="41.70" y2="528.40" stroke="#222" stroke-width="1.4"/>
<text x="35.90" y="533.70" font-size="12.3" font-weight="bold" text-anchor="end" fill="#111" textLength="11.90" lengthAdjust="spacingAndGlyphs">20</text>
<line x1="37.80" y1="499.40" x2="41.70" y2="499.40" stroke="#222" stroke-width="1.4"/>
<text x="35.90" y="504.70" font-size="12.3" font-weight="bold" text-anchor="end" fill="#111" textLength="11.90" lengthAdjust="spacingAndGlyphs">30</text>
<line x1="37.80" y1="470.40" x2="41.70" y2="470.40" stroke="#222" stroke-width="1.4"/>
<text x="35.90" y="475.70" font-size="12.3" font-weight="bold" text-anchor="end" fill="#111" textLength="11.90" lengthAdjust="spacingAndGlyphs">40</text>
<line x1="37.80" y1="441.40" x2="41.70" y2="441.40" stroke="#222" stroke-width="1.4"/>
<text x="35.90" y="446.70" font-size="12.3" font-weight="bold" text-anchor="end" fill="#111" textLength="11.90" lengthAdjust="spacingAndGlyphs">50</text>
<line x1="37.80" y1="412.40" x2="41.70" y2="412.40" stroke="#222" stroke-width="1.4"/>
<text x="35.90" y="417.70" font-size="12.3" font-weight="bold" text-anchor="end" fill="#111" textLength="11.90" lengthAdjust="spacingAndGlyphs">60</text>
<line x1="37.80" y1="383.40" x2="41.70" y2="383.40" stroke="#222" stroke-width="1.4"/>
<text x="35.90" y="388.70" font-size="12.3" font-weight="bold" text-anchor="end" fill="#111" textLength="11.90" lengthAdjust="spacingAndGlyphs">70</text>
<line x1="37.80" y1="354.40" x2="41.70" y2="354.40" stroke="#222" stroke-width="1.4"/>
<text x="35.90" y="359.70" font-size="12.3" font-weight="bold" text-anchor="end" fill="#111" textLength="11.90" lengthAdjust="spacingAndGlyphs">80</text>
<line x1="37.80" y1="325.40" x2="41.70" y2="325.40" stroke="#222" stroke-width="1.4"/>
<text x="35.90" y="330.70" font-size="12.3" font-weight="bold" text-anchor="end" fill="#111" textLength="11.90" lengthAdjust="spacingAndGlyphs">90</text>
<line x1="37.80" y1="296.40" x2="41.70" y2="296.40" stroke="#222" stroke-width="1.4"/>
<text x="35.90" y="301.70" font-size="12.3" font-weight="bold" text-anchor="end" fill="#111" textLength="17.85" lengthAdjust="spacingAndGlyphs">100</text>
<line x1="41.70" y1="586.40" x2="41.70" y2="590.80" stroke="#241c1a" stroke-width="1.3"/>
<line x1="114.35" y1="586.40" x2="114.35" y2="590.80" stroke="#241c1a" stroke-width="1.3"/>
<line x1="187.00" y1="586.40" x2="187.00" y2="590.80" stroke="#241c1a" stroke-width="1.3"/>
<line x1="259.65" y1="586.40" x2="259.65" y2="590.80" stroke="#241c1a" stroke-width="1.3"/>
<line x1="332.30" y1="586.40" x2="332.30" y2="590.80" stroke="#241c1a" stroke-width="1.3"/>
<text x="77.70" y="610.20" font-size="14" font-weight="normal" text-anchor="middle" fill="#111" textLength="27.60" lengthAdjust="spacingAndGlyphs" stroke="#111" stroke-width="0.55">Bone</text>
<text x="77.4" y="630.2" font-size="14" text-anchor="middle" fill="#111" textLength="46.2" lengthAdjust="spacing" stroke="#111" stroke-width="0.55">Marrow</text>
<text x="148.30" y="610.20" font-size="14" font-weight="normal" text-anchor="middle" fill="#111" textLength="38.40" lengthAdjust="spacingAndGlyphs" stroke="#111" stroke-width="0.55">Spleen</text>
<text x="224.20" y="610.20" font-size="14" font-weight="normal" text-anchor="middle" fill="#111" textLength="34.30" lengthAdjust="spacingAndGlyphs" stroke="#111" stroke-width="0.55">BJAB</text>
<text x="297.00" y="610.20" font-size="14" font-weight="normal" text-anchor="middle" fill="#111" textLength="22.20" lengthAdjust="spacingAndGlyphs" stroke="#111" stroke-width="0.55">LCL</text>
<text transform="translate(14.9,559.2) rotate(-90)" font-size="17" font-weight="bold" fill="#111" textLength="235.2" lengthAdjust="spacingAndGlyphs">% of Genes Altered by LMP2A</text>
<text x="0.50" y="252.70" font-size="24.6" font-weight="bold" text-anchor="start" fill="#111" textLength="17.60" lengthAdjust="spacingAndGlyphs" stroke="#111" stroke-width="0.4">B</text>
<rect x="362.8" y="246.1" width="156" height="389" fill="#fff" stroke="#444" stroke-width="1.3"/>
<rect x="366.6" y="256.15" width="12.6" height="15.2" fill="#1a1214"/>
<rect x="369.5" y="259.25" width="6.8" height="7.6" fill="#2a9a90"/>
<text x="382.20" y="269.15" font-size="14.2" font-weight="normal" text-anchor="start" fill="#111" textLength="79.10" lengthAdjust="spacingAndGlyphs" stroke="#111" stroke-width="0.7">Ubiquitination</text>
<rect x="366.6" y="288.34" width="12.6" height="15.2" fill="#1a1214"/>
<rect x="369.5" y="291.44" width="6.8" height="7.6" fill="#f0e488"/>
<text x="382.20" y="301.34" font-size="14.2" font-weight="normal" text-anchor="start" fill="#111" textLength="106.80" lengthAdjust="spacingAndGlyphs" stroke="#111" stroke-width="0.7">Tumor-Associated</text>
<rect x="366.6" y="320.53" width="12.6" height="15.2" fill="#1a1214"/>
<rect x="369.5" y="323.63" width="6.8" height="7.6" fill="#e8508a"/>
<text x="382.20" y="333.53" font-size="14.2" font-weight="normal" text-anchor="start" fill="#111" textLength="107.70" lengthAdjust="spacingAndGlyphs" stroke="#111" stroke-width="0.7">Transport/Sorting</text>
<rect x="366.6" y="352.72" width="12.6" height="15.2" fill="#1a1214"/>
<rect x="369.5" y="355.82" width="6.8" height="7.6" fill="#3a3a5a"/>
<text x="382.20" y="365.72" font-size="14.2" font-weight="normal" text-anchor="start" fill="#111" textLength="74.50" lengthAdjust="spacingAndGlyphs" stroke="#111" stroke-width="0.7">Transcription</text>
<text x="466.20" y="365.72" font-size="14.2" font-weight="normal" text-anchor="start" fill="#111" textLength="42.10" lengthAdjust="spacingAndGlyphs" stroke="#111" stroke-width="0.7">Factors</text>
<rect x="366.6" y="384.91" width="12.6" height="15.2" fill="#1a1214"/>
<rect x="369.5" y="388.01" width="6.8" height="7.6" fill="#e8e4f0"/>
<text x="382.20" y="397.91" font-size="14.2" font-weight="normal" text-anchor="start" fill="#111" textLength="51.40" lengthAdjust="spacingAndGlyphs" stroke="#111" stroke-width="0.7">Signaling</text>
<rect x="366.6" y="417.10" width="12.6" height="15.2" fill="#1a1214"/>
<rect x="369.5" y="420.20" width="6.8" height="7.6" fill="#3e6a7c"/>
<text x="382.20" y="430.10" font-size="14.2" font-weight="normal" text-anchor="start" fill="#111" textLength="89.30" lengthAdjust="spacingAndGlyphs" stroke="#111" stroke-width="0.7">Other/Unknown</text>
<rect x="366.6" y="449.29" width="12.6" height="15.2" fill="#1a1214"/>
<rect x="369.5" y="452.39" width="6.8" height="7.6" fill="#f8b0a0"/>
<text x="382.20" y="462.29" font-size="14.2" font-weight="normal" text-anchor="start" fill="#111" textLength="135.40" lengthAdjust="spacingAndGlyphs" stroke="#111" stroke-width="0.7">Inflammation/Immunity</text>
<rect x="366.6" y="481.48" width="12.6" height="15.2" fill="#1a1214"/>
<rect x="369.5" y="484.58" width="6.8" height="7.6" fill="#8a3a5c"/>
<text x="382.20" y="494.48" font-size="14.2" font-weight="normal" text-anchor="start" fill="#111" textLength="123.10" lengthAdjust="spacingAndGlyphs" stroke="#111" stroke-width="0.7">Enzymes/Metabolism</text>
<rect x="366.6" y="513.67" width="12.6" height="15.2" fill="#1a1214"/>
<rect x="369.5" y="516.77" width="6.8" height="7.6" fill="#e0f4f4"/>
<text x="382.20" y="526.67" font-size="14.2" font-weight="normal" text-anchor="start" fill="#111" textLength="52.90" lengthAdjust="spacingAndGlyphs" stroke="#111" stroke-width="0.7">DNA/RNA</text>
<text x="443.70" y="526.67" font-size="14.2" font-weight="normal" text-anchor="start" fill="#111" textLength="63.80" lengthAdjust="spacingAndGlyphs" stroke="#111" stroke-width="0.7">Metabolism</text>
<rect x="366.6" y="545.86" width="12.6" height="15.2" fill="#1a1214"/>
<rect x="369.5" y="548.96" width="6.8" height="7.6" fill="#fffbe8"/>
<text x="382.20" y="558.86" font-size="14.2" font-weight="normal" text-anchor="start" fill="#111" textLength="73.90" lengthAdjust="spacingAndGlyphs" stroke="#111" stroke-width="0.7">Cytoskeleton</text>
<rect x="366.6" y="578.05" width="12.6" height="15.2" fill="#1a1214"/>
<rect x="369.5" y="581.15" width="6.8" height="7.6" fill="#d06070"/>
<text x="382.20" y="591.05" font-size="14.2" font-weight="normal" text-anchor="start" fill="#111" textLength="46.10" lengthAdjust="spacingAndGlyphs" stroke="#111" stroke-width="0.7">Cell-cell</text>
<text x="436.30" y="591.05" font-size="14.2" font-weight="normal" text-anchor="start" fill="#111" textLength="68.00" lengthAdjust="spacingAndGlyphs" stroke="#111" stroke-width="0.7">Interactions</text>
<rect x="366.6" y="610.24" width="12.6" height="15.2" fill="#1a1214"/>
<rect x="369.5" y="613.34" width="6.8" height="7.6" fill="#c8c0e8"/>
<text x="382.20" y="623.24" font-size="14.2" font-weight="normal" text-anchor="start" fill="#111" textLength="21.60" lengthAdjust="spacingAndGlyphs" stroke="#111" stroke-width="0.7">Cell</text>
<text x="410.80" y="623.24" font-size="14.2" font-weight="normal" text-anchor="start" fill="#111" textLength="93.50" lengthAdjust="spacingAndGlyphs" stroke="#111" stroke-width="0.7">Cycle/Apoptosis</text>
</svg>
</body></html>
